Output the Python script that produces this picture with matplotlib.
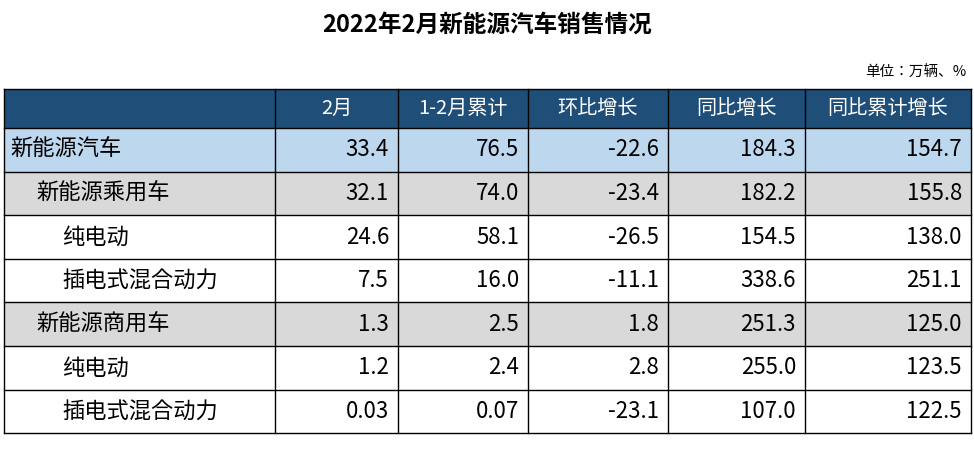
import matplotlib.pyplot as plt
from matplotlib import font_manager
from matplotlib.patches import Rectangle

# pick up a CJK sans font file directly
cjk = [f for f in font_manager.findSystemFonts() if 'cjk' in f.lower()]
if cjk:
    for f in cjk:
        font_manager.fontManager.addfont(f)
    names = [font_manager.FontProperties(fname=f).get_name() for f in cjk]
    sc = ([n for n in names if 'Sans' in n and 'SC' in n]
          or [n for n in names if 'Sans' in n] or names)
    plt.rcParams['font.family'] = [sc[0], 'DejaVu Sans']

title = '2022年2月新能源汽车销售情况'
unit = '单位：万辆、%'
columns = ['', '2月', '1-2月累计', '环比增长', '同比增长', '同比累计增长']
row_names = ['新能源汽车', '新能源乘用车', '纯电动', '插电式混合动力',
             '新能源商用车', '纯电动', '插电式混合动力']
indent = [0, 1, 2, 2, 1, 2, 2]
month = ['33.4', '32.1', '24.6', '7.5', '1.3', '1.2', '0.03']
cumul = ['76.5', '74.0', '58.1', '16.0', '2.5', '2.4', '0.07']
mom = ['-22.6', '-23.4', '-26.5', '-11.1', '1.8', '2.8', '-23.1']
yoy = ['184.3', '182.2', '154.5', '338.6', '251.3', '255.0', '107.0']
yoy_cum = ['154.7', '155.8', '138.0', '251.1', '125.0', '123.5', '122.5']
row_colors = ['#BDD7EE', '#D9D9D9', 'white', 'white', '#D9D9D9', 'white', 'white']

fig = plt.figure(figsize=(9.74, 4.5), dpi=100)
ax = fig.add_axes([0, 0, 1, 1])
ax.set_xlim(0, 974)
ax.set_ylim(450, 0)
ax.axis('off')

xs = [4, 275, 398, 528, 668, 805, 971]
top, head_h, row_h = 89, 39, 43.6

ax.text(487, 25, title, ha='center', va='center', fontsize=17, fontweight='bold')
ax.text(966, 73, unit, ha='right', va='center', fontsize=10.5)

ax.add_patch(Rectangle((xs[0], top), xs[-1] - xs[0], head_h, color='#1F4E79', lw=0))
for j in range(1, 6):
    ax.text((xs[j] + xs[j + 1]) / 2, top + head_h / 2, columns[j], ha='center',
            va='center', color='white', fontsize=14.5)

cols = [month, cumul, mom, yoy, yoy_cum]
for i, name in enumerate(row_names):
    y0 = top + head_h + i * row_h
    ax.add_patch(Rectangle((xs[0], y0), xs[-1] - xs[0], row_h, color=row_colors[i], lw=0))
    ax.text(xs[0] + 6 + indent[i] * 26, y0 + row_h / 2, name, ha='left', va='center', fontsize=16)
    for j, c in enumerate(cols):
        ax.text(xs[j + 2] - 9, y0 + row_h / 2, c[i], ha='right', va='center', fontsize=16)
    ax.plot([xs[0], xs[-1]], [y0, y0], color='black', lw=1)

bottom = top + head_h + len(row_names) * row_h
ax.plot([xs[0], xs[-1]], [top, top], color='black', lw=1)
ax.plot([xs[0], xs[-1]], [bottom, bottom], color='black', lw=1)
for x in xs:
    ax.plot([x, x], [top, bottom], color='black', lw=1)

fig.savefig('out.png', dpi=100)
